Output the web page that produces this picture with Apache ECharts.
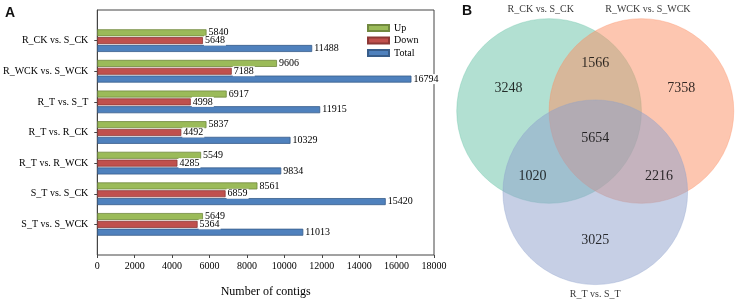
<!DOCTYPE html>
<html>
<head>
<meta charset="utf-8">
<script src="https://cdn.jsdelivr.net/npm/echarts@6/dist/echarts.min.js"></script>
<style>
  html, body { margin: 0; padding: 0; background: #fff; }
  #chart { width: 743px; height: 304px; }
</style>
</head>
<body>
<div id="chart"></div>
<script>
// panel A data (top to bottom)
const categories = ['R_CK vs. S_CK', 'R_WCK vs. S_WCK', 'R_T vs. S_T', 'R_T vs. R_CK', 'R_T vs. R_WCK', 'S_T vs. S_CK', 'S_T vs. S_WCK']
const upValues = [5840, 9606, 6917, 5837, 5549, 8561, 5649]
const downValues = [5648, 7188, 4998, 4492, 4285, 6859, 5364]
const totalValues = [11488, 16794, 11915, 10329, 9834, 15420, 11013]
const xTicks = [0, 2000, 4000, 6000, 8000, 10000, 12000, 14000, 16000, 18000]

// panel B data: circles in radius units (equilateral layout), region counts
const vennSets = ['R_CK vs. S_CK', 'R_WCK vs. S_WCK', 'R_T vs. S_T']
const vennCenters = [[-0.5, 0], [0.5, 0], [0, -0.86]]
const vennColors = ['#66C2A5', '#FC8D62', '#8DA0CB']
const vennCounts = [3248, 1566, 7358, 5654, 1020, 2216, 3025]
const vennCountPos = [[-0.94, 0.24], [0, 0.5], [0.93, 0.24], [0, -0.29], [-0.68, -0.69], [0.69, -0.69], [0, -1.37]]
const vennNamePos = [[-0.59, 1.07], [0.57, 1.07], [0, -1.94]]

const serif = 'Liberation Serif'
const chart = echarts.init(document.getElementById('chart'), null, { renderer: 'canvas' })

// pad the category axis with blank slots so the groups sit off the frame
const yData = [''].concat(categories, [''])
const pad = (arr) => ['-'].concat(arr, ['-'])
const notBlank = (i, v) => v !== ''

const barLabel = {
  show: true,
  position: 'right',
  distance: 1,
  color: '#000',
  fontFamily: serif,
  fontSize: 10,
  backgroundColor: '#fff',
  padding: [0, 1, 0, 1]
}

const makeBar = (name, data, color, border) => ({
  name,
  type: 'bar',
  xAxisIndex: 0,
  yAxisIndex: 0,
  data: pad(data),
  barWidth: 7,
  barGap: '12%',
  itemStyle: { color, borderColor: border, borderWidth: 0.8 },
  label: barLabel
})

const options = {
  backgroundColor: '#fff',
  animation: false,
  title: [
    { text: 'A', left: 5, top: 6, padding: 0, textStyle: { fontFamily: 'Liberation Sans', fontWeight: 'bold', fontSize: 14, color: '#111' } },
    { text: 'B', left: 462, top: 4, padding: 0, textStyle: { fontFamily: 'Liberation Sans', fontWeight: 'bold', fontSize: 14, color: '#111' } }
  ],
  legend: {
    data: ['Up', 'Down', 'Total'],
    orient: 'vertical',
    left: 367,
    top: 23,
    padding: 0,
    itemWidth: 21,
    itemHeight: 6,
    itemGap: 2.5,
    icon: 'rect',
    textStyle: { fontFamily: serif, fontSize: 10, color: '#000', lineHeight: 10 }
  },
  grid: [
    { left: 95, top: 10, width: 339, height: 245, show: true, borderColor: '#444', borderWidth: 1, backgroundColor: 'transparent' },
    // venn panel: 1 unit = 94.5 px both ways
    { left: 447.5, top: 2.3, width: 302.4, height: 297.7 }
  ],
  xAxis: [
    {
      gridIndex: 0,
      type: 'value',
      min: xTicks[0],
      max: xTicks[xTicks.length - 1],
      interval: xTicks[1] - xTicks[0],
      name: 'Number of contigs',
      nameLocation: 'middle',
      nameGap: 31,
      nameTextStyle: { fontFamily: serif, fontSize: 12, color: '#000' },
      axisLine: { lineStyle: { color: '#444' } },
      axisTick: { show: true, length: 3, lineStyle: { color: '#444' } },
      axisLabel: { fontFamily: serif, fontSize: 10, color: '#000', margin: 6, formatter: (v) => String(v) },
      splitLine: { show: false }
    },
    { gridIndex: 1, type: 'value', min: -1.6, max: 1.6, show: false }
  ],
  yAxis: [
    {
      gridIndex: 0,
      type: 'category',
      data: yData,
      inverse: true,
      boundaryGap: false,
      axisLine: { lineStyle: { color: '#444' } },
      axisTick: { show: true, length: 3, interval: notBlank, lineStyle: { color: '#444' } },
      axisLabel: { fontFamily: serif, fontSize: 10, color: '#000', margin: 9, interval: notBlank },
      splitLine: { show: false }
    },
    { gridIndex: 1, type: 'value', min: -2.0, max: 1.15, show: false }
  ],
  series: [
    makeBar('Up', upValues, '#9BBB59', '#71893F'),
    makeBar('Down', downValues, '#C0504D', '#8C3836'),
    makeBar('Total', totalValues, '#4F81BD', '#385D8A'),
    {
      type: 'custom',
      xAxisIndex: 1,
      yAxisIndex: 1,
      silent: true,
      data: vennCenters.map((c, i) => [c[0], c[1], 1, i]),
      renderItem: (params, api) => {
        const center = api.coord([api.value(0), api.value(1)])
        const r = api.size([api.value(2), 0])[0]
        const color = echarts.color.modifyAlpha(vennColors[api.value(3)], 0.5)
        const edge = echarts.color.modifyAlpha(vennColors[api.value(3)], 0.35)
        return {
          type: 'circle',
          shape: { cx: center[0], cy: center[1], r },
          style: { fill: color, stroke: edge, lineWidth: 1 }
        }
      },
      z: 1
    },
    {
      type: 'scatter',
      xAxisIndex: 1,
      yAxisIndex: 1,
      silent: true,
      symbolSize: 0,
      data: vennCounts.map((v, i) => [vennCountPos[i][0], vennCountPos[i][1], v]),
      label: {
        show: true,
        position: 'inside',
        formatter: (p) => String(p.value[2]),
        fontFamily: serif,
        fontSize: 14,
        color: '#000'
      },
      z: 3
    },
    {
      type: 'scatter',
      xAxisIndex: 1,
      yAxisIndex: 1,
      silent: true,
      symbolSize: 0,
      data: vennSets.map((s, i) => ({ value: vennNamePos[i], name: s })),
      label: {
        show: true,
        position: 'inside',
        formatter: (p) => p.name,
        fontFamily: serif,
        fontSize: 10,
        color: '#000'
      },
      z: 3
    }
  ]
}

chart.setOption(options)
</script>
</body>
</html>
